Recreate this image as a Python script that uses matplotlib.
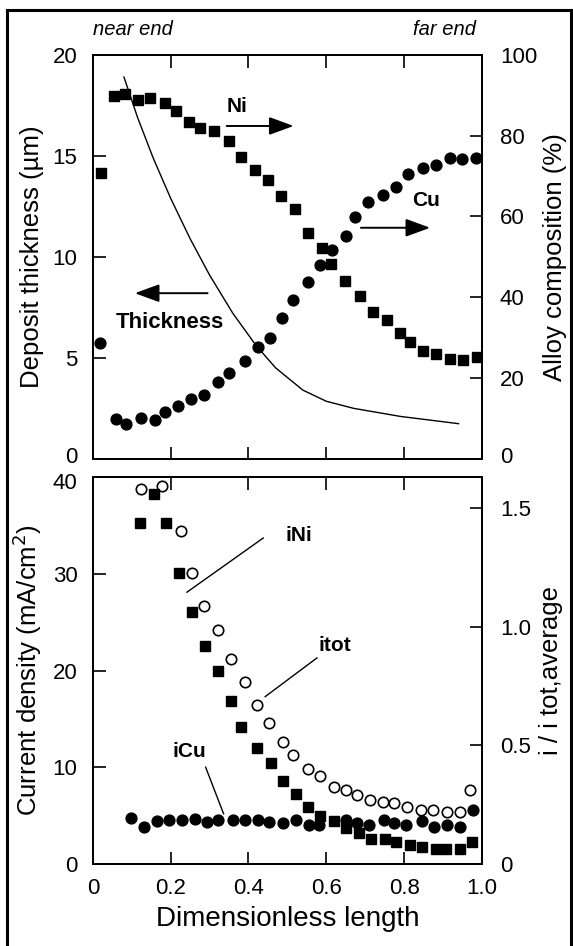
import numpy as np
import matplotlib.pyplot as plt
import matplotlib.transforms as mtransforms
from matplotlib.lines import Line2D

plt.rcParams['font.family'] = ['Liberation Sans', 'DejaVu Sans']

# top panel: alloy composition (%) and deposit thickness (um)
ni_x = [0.022, 0.054, 0.082, 0.115, 0.147, 0.186, 0.214, 0.246, 0.276, 0.312,
        0.350, 0.380, 0.417, 0.450, 0.483, 0.520, 0.553, 0.588, 0.612, 0.647,
        0.686, 0.719, 0.756, 0.789, 0.815, 0.848, 0.881, 0.917, 0.951, 0.987]
ni_pct = [70.8, 89.7, 90.2, 88.8, 89.4, 88.2, 86.2, 83.4, 81.8, 81.1,
          78.7, 74.8, 71.4, 69.0, 65.1, 61.9, 55.9, 52.2, 48.3, 44.1,
          40.4, 36.3, 34.4, 31.1, 28.8, 26.7, 25.9, 24.7, 24.5, 25.2]
cu_x = [0.019, 0.059, 0.084, 0.125, 0.159, 0.185, 0.220, 0.253, 0.286, 0.321,
        0.351, 0.391, 0.425, 0.455, 0.487, 0.515, 0.553, 0.584, 0.614, 0.651,
        0.675, 0.708, 0.745, 0.778, 0.811, 0.848, 0.881, 0.918, 0.949, 0.984]
cu_pct = [28.6, 9.8, 8.5, 10.2, 9.6, 11.6, 13.1, 14.7, 15.8, 19.0,
          21.2, 24.1, 27.8, 29.8, 34.8, 39.2, 43.7, 48.0, 51.8, 55.1,
          59.9, 63.6, 65.2, 67.3, 70.6, 71.9, 72.7, 74.5, 74.3, 74.5]
th_x = [0.080, 0.115, 0.155, 0.200, 0.250, 0.300, 0.360, 0.420, 0.470,
        0.540, 0.600, 0.670, 0.790, 0.940]
th_um = [18.9, 16.9, 14.9, 12.9, 10.9, 9.1, 7.2, 5.6, 4.5,
         3.4, 2.85, 2.5, 2.1, 1.74]

# bottom panel: current density (mA/cm2)
ini_x = [0.121, 0.156, 0.189, 0.221, 0.254, 0.288, 0.321, 0.354, 0.382, 0.423,
         0.458, 0.488, 0.521, 0.552, 0.584, 0.621, 0.652, 0.683, 0.716, 0.751,
         0.780, 0.815, 0.847, 0.881, 0.909, 0.944, 0.975]
ini_i = [35.3, 38.3, 35.2, 30.1, 26.1, 22.5, 19.9, 16.9, 14.2, 12.0,
         10.4, 8.6, 7.2, 5.9, 5.0, 4.4, 3.7, 3.2, 2.6, 2.6,
         2.3, 2.0, 1.8, 1.6, 1.6, 1.6, 2.3]
itot_x = [0.123, 0.179, 0.226, 0.255, 0.287, 0.321, 0.354, 0.391, 0.421, 0.453,
          0.488, 0.514, 0.554, 0.584, 0.619, 0.652, 0.680, 0.712, 0.747, 0.774,
          0.808, 0.843, 0.874, 0.911, 0.943, 0.969]
itot_i = [38.8, 39.1, 34.4, 30.1, 26.7, 24.2, 21.2, 18.8, 16.4, 14.6,
          12.6, 11.3, 9.8, 9.1, 8.0, 7.6, 7.1, 6.6, 6.4, 6.3,
          5.9, 5.6, 5.6, 5.4, 5.4, 7.6]
icu_x = [0.099, 0.131, 0.165, 0.195, 0.229, 0.262, 0.293, 0.323, 0.360, 0.392,
         0.424, 0.454, 0.488, 0.521, 0.555, 0.581, 0.652, 0.680, 0.710, 0.749,
         0.774, 0.804, 0.845, 0.877, 0.911, 0.943, 0.977]
icu_i = [4.8, 3.8, 4.4, 4.5, 4.5, 4.7, 4.3, 4.5, 4.5, 4.5,
         4.5, 4.3, 4.2, 4.5, 4.0, 4.0, 4.5, 4.2, 4.0, 4.5,
         4.2, 4.0, 4.4, 3.8, 4.0, 3.8, 5.6]

fig = plt.figure(figsize=(5.73, 9.46), dpi=100)

# border around the whole figure (bottom edge is cropped in the original)
for xs, ys in [([0.012, 0.012], [-0.01, 0.9894]), ([0.012, 0.9965], [0.9894, 0.9894]),
               ([0.9965, 0.9965], [-0.01, 0.9894])]:
    fig.add_artist(Line2D(xs, ys, transform=fig.transFigure, color='black', lw=2.2))

tick_kw = dict(direction='in', length=9, width=1.2, labelsize=16)

# ---- top panel
ax1 = fig.add_axes([0.162, 0.515, 0.679, 0.427])
ax1r = ax1.twinx()
ax1.plot(th_x, th_um, color='black', lw=1.0)
ax1r.plot(ni_x, ni_pct, 's', color='black', ms=7.5)
ax1r.plot(cu_x, cu_pct, 'o', color='black', ms=7.8)

ax1.set_xlim(0, 1)
ax1.set_ylim(0, 20)
ax1r.set_ylim(0, 100)
ax1.set_xticks([0.2, 0.4, 0.6, 0.8])
ax1.set_yticks([0, 5, 10, 15, 20])
ax1r.set_yticks([0, 20, 40, 60, 80, 100])
ax1.tick_params(axis='x', top=True, labelbottom=False, **tick_kw)
ax1.tick_params(axis='y', pad=11, **tick_kw)
ax1r.tick_params(axis='y', pad=13, **tick_kw)
ax1.set_ylabel('Deposit thickness (µm)', fontsize=18.5, labelpad=6)
ax1r.set_ylabel('Alloy composition (%)', fontsize=18.5, labelpad=4)

ax1.text(0.0, 1.062, 'near end', transform=ax1.transAxes, style='italic',
         fontsize=14.5, ha='left', va='center')
ax1.text(0.985, 1.062, 'far end', transform=ax1.transAxes, style='italic',
         fontsize=14.5, ha='right', va='center')

arrow = dict(arrowstyle='-|>,head_length=1.5,head_width=0.55', color='black', lw=1.4,
             shrinkA=0, shrinkB=0)
ax1r.text(0.37, 87.2, 'Ni', fontsize=15, fontweight='bold', ha='center', va='center')
ax1r.annotate('', xy=(0.516, 82.4), xytext=(0.344, 82.4), arrowprops=arrow)
ax1r.text(0.856, 64.0, 'Cu', fontsize=15, fontweight='bold', ha='center', va='center')
ax1r.annotate('', xy=(0.867, 57.2), xytext=(0.689, 57.2), arrowprops=arrow)
ax1r.text(0.197, 6.75 * 5, 'Thickness', fontsize=16, fontweight='bold',
          ha='center', va='center')
ax1r.annotate('', xy=(0.108, 8.2 * 5), xytext=(0.295, 8.2 * 5), arrowprops=arrow)

# ---- bottom panel
ax2 = fig.add_axes([0.162, 0.0867, 0.679, 0.409])
ax2r = ax2.twinx()
ax2.plot(icu_x, icu_i, 'o', color='black', ms=7.8, zorder=3)
ax2.plot(itot_x, itot_i, 'o', mfc='white', mec='black', mew=1.2, ms=7.5, zorder=3)
ax2.plot(ini_x, ini_i, 's', color='black', ms=7, zorder=4)

ax2.set_xlim(0, 1)
ax2.set_ylim(0, 40)
ax2r.set_ylim(0, 1.63)
ax2.set_xticks([0, 0.2, 0.4, 0.6, 0.8, 1.0])
ax2.set_xticklabels(['0', '0.2', '0.4', '0.6', '0.8', '1.0'])
ax2.set_yticks([0, 10, 20, 30, 40])
ax2r.set_yticks([0, 0.5, 1.0, 1.5])
ax2r.set_yticklabels(['0', '0.5', '1.0', '1.5'])
ax2.tick_params(axis='x', top=True, pad=10, **tick_kw)
ax2.tick_params(axis='y', pad=11, **tick_kw)
ax2r.tick_params(axis='y', pad=13, **tick_kw)
ax2.set_xlabel('Dimensionless length', fontsize=20, labelpad=5)
ax2.set_ylabel('Current density (mA/cm$^2$)', fontsize=18.5, labelpad=6)
ax2r.set_ylabel('i / i tot,average', fontsize=18.5, labelpad=6)

ax2.text(0.53, 34.0, 'iNi', fontsize=15, fontweight='bold', ha='center', va='center')
ax2.plot([0.242, 0.438], [28.1, 33.7], color='black', lw=1.0)
ax2.text(0.623, 22.6, 'itot', fontsize=15, fontweight='bold', ha='center', va='center')
ax2.plot([0.443, 0.576], [17.3, 21.3], color='black', lw=1.0)
ax2.text(0.249, 11.6, 'iCu', fontsize=15, fontweight='bold', ha='center', va='center')
ax2.plot([0.290, 0.336], [10.0, 5.2], color='black', lw=1.0)

for ax in (ax1, ax1r, ax2, ax2r):
    for sp in ax.spines.values():
        sp.set_linewidth(1.4)

# keep the stacked "0" (top panel) and "40" (bottom panel) labels apart
up = mtransforms.ScaledTranslation(0, 3 / 72, fig.dpi_scale_trans)
down = mtransforms.ScaledTranslation(0, -3 / 72, fig.dpi_scale_trans)
for axis_obj, idx, off in [(ax1.yaxis, 0, up), (ax1r.yaxis, 0, up), (ax2.yaxis, -1, down)]:
    lab = axis_obj.get_major_ticks()[idx]
    for t in (lab.label1, lab.label2):
        t.set_transform(t.get_transform() + off)

fig.savefig('out.png', dpi=100)
